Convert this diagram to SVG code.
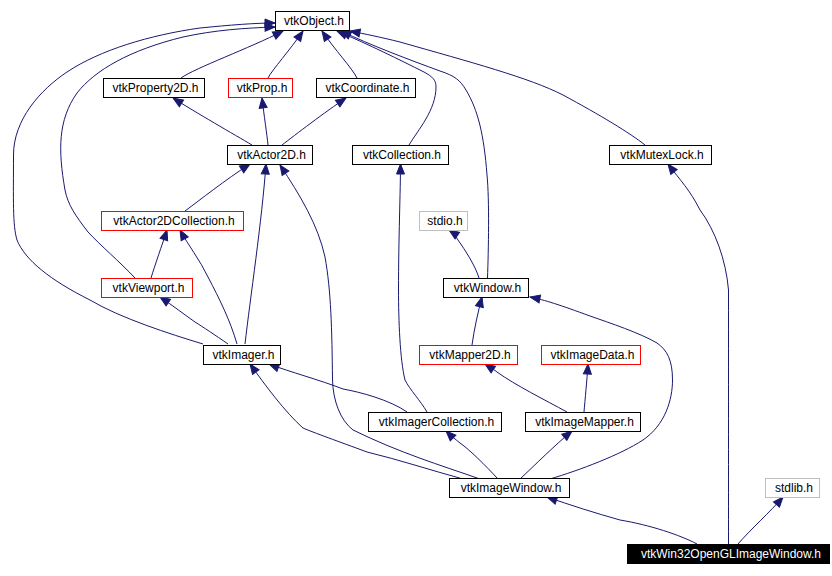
<svg xmlns="http://www.w3.org/2000/svg" width="832" height="576" viewBox="0 0 832 576">
<style>
.n rect{fill:#fff;stroke:#000;stroke-width:1}
.r rect{stroke:#f00}
.g rect{stroke:#bfbfbf}
.b rect{fill:#000;stroke:#000}
.b text{fill:#fff}
text{font-family:"Liberation Sans",Arial,Helvetica,sans-serif;font-size:12px;text-anchor:middle;fill:#000}
.e path{fill:none;stroke:#191970;stroke-width:1;marker-end:url(#a)}
</style>
<defs>
<marker id="a" markerUnits="userSpaceOnUse" markerWidth="12" markerHeight="10" refX="10" refY="4" orient="auto" overflow="visible">
<path d="M0,0 L10,4 L0,8 z" fill="#191970" stroke="#191970" stroke-width="1"/>
</marker>
</defs>
<rect width="832" height="576" fill="#fff"/>
<g id="connectors" class="e">
<path d="M181,78 C195,68 250,48 283,31"/>
<path d="M268,78 C272,70 290,50 303,31"/>
<path d="M357,78 C352,68 335,50 322,31"/>
<path d="M252,145 C235,135 195,112 173,98"/>
<path d="M268,145 C267,135 264,115 262,98"/>
<path d="M282,145 C295,135 325,112 346,98"/>
<path d="M409,145 C418,130 436,110 436,87 C436,80 433,77 424,72 C400,60 370,45 337,31"/>
<path d="M487.5,278 C488.5,250 489.5,200 487,175 C484,135 478,110 466,90 C460,80 455,76 440,71 C410,60 370,45 341,31"/>
<path d="M645,145 C630,133 600,115 563,95 C530,78 470,62 400,42 C380,37 365,34 350,31"/>
<path d="M135,278 C120,262 100,245 88,232 C75,215 68,205 65,190 C58,150 58,120 77,93 C95,70 130,50 183,37 C215,30 245,28 275,27"/>
<path d="M203,344 C170,334 120,318 90,300 C50,280 25,260 17,240 C12.5,225 13.5,200 13.5,155 C13.5,120 40,90 67,72 C100,50 150,35 200,28 C230,25 255,23 275,23"/>
<path d="M185,211 C200,200 225,180 250,164"/>
<path d="M245,344 C250,300 262,220 266,164"/>
<path d="M480,479 C440,465 400,453 353,430 C340,420 333,400 332.5,380 C332,330 331,290 325,257 C318,225 300,195 280,165"/>
<path d="M151,278 C155,265 162,245 167,230"/>
<path d="M237,344 C230,320 220,300 208,277 C200,260 188,245 180,230"/>
<path d="M228,344 C215,335 203,327 195,322 C185,315 172,305 160,297"/>
<path d="M407,412 C390,400 360,392 343,389 C320,380 290,372 269,364"/>
<path d="M463,479 C430,470 400,460 367,452 C340,442 312,432 303,428 C285,412 265,385 250,364"/>
<path d="M427,412 C420,400 410,390 405,380 C400,360 398.5,320 398.5,290 C398.5,240 400.5,190 400.5,164"/>
<path d="M498,479 C485,465 470,450 460,443 C455,439 450,435 446,431"/>
<path d="M520,479 C535,465 555,445 572,431"/>
<path d="M550,479 C580,470 620,455 643,440 C665,425 672.5,400 672.5,380 C672.5,360 667,350 657,343 C640,333 610,323 590,316 C560,305 545,300 530,297"/>
<path d="M472,345 C474,330 478,312 482,297"/>
<path d="M479,278 C475,265 465,250 458,240 C455,235 452,232 449,230"/>
<path d="M567,412 C545,400 515,385 497,372 C492,368 488,366 485,364"/>
<path d="M584,412 C585,400 587,380 588,364"/>
<path d="M697,544 C680,535 650,525 620,520 C595,513 570,505 547,497"/>
<path d="M728.5,544 C728.5,480 728.5,400 728.5,290 C726,260 715,230 700,210 C690,190 680,180 668,164"/>
<path d="M738,544 C750,530 770,512 783,497"/>
</g>
<g id="vtkObject" class="n"><rect x="275.5" y="11.5" width="74" height="19"/><text x="314" y="24.5">vtkObject.h</text></g>
<g id="vtkProperty2D" class="n"><rect x="103.5" y="78.5" width="101" height="19"/><text x="155.5" y="91.5">vtkProperty2D.h</text></g>
<g id="vtkProp" class="n r"><rect x="228.5" y="78.5" width="64" height="19"/><text x="262" y="91.5">vtkProp.h</text></g>
<g id="vtkCoordinate" class="n"><rect x="316.5" y="78.5" width="99" height="19"/><text x="367.5" y="91.5">vtkCoordinate.h</text></g>
<g id="vtkActor2D" class="n"><rect x="227.5" y="145.5" width="85" height="19"/><text x="271.5" y="158.5">vtkActor2D.h</text></g>
<g id="vtkCollection" class="n"><rect x="352.5" y="145.5" width="96" height="19"/><text x="402" y="158.5">vtkCollection.h</text></g>
<g id="vtkMutexLock" class="n"><rect x="609.5" y="145.5" width="102" height="19"/><text x="662" y="158.5">vtkMutexLock.h</text></g>
<g id="vtkActor2DCollection" class="n r"><rect x="101.5" y="211.5" width="142" height="19"/><text x="174" y="224.5">vtkActor2DCollection.h</text></g>
<g id="stdio" class="n g"><rect x="419.5" y="211.5" width="48" height="19"/><text x="445" y="224.5">stdio.h</text></g>
<g id="vtkViewport" class="n r"><rect x="101.5" y="278.5" width="91" height="19"/><text x="148.5" y="291.5">vtkViewport.h</text></g>
<g id="vtkWindow" class="n"><rect x="443.5" y="278.5" width="85" height="19"/><text x="487.5" y="291.5">vtkWindow.h</text></g>
<g id="vtkImager" class="n"><rect x="203.5" y="345.5" width="77" height="19"/><text x="243.5" y="358.5">vtkImager.h</text></g>
<g id="vtkMapper2D" class="n r"><rect x="419.5" y="345.5" width="98" height="19"/><text x="470" y="358.5">vtkMapper2D.h</text></g>
<g id="vtkImageData" class="n r"><rect x="541.5" y="345.5" width="99" height="19"/><text x="592.5" y="358.5">vtkImageData.h</text></g>
<g id="vtkImagerCollection" class="n"><rect x="368.5" y="412.5" width="133" height="19"/><text x="436.5" y="425.5">vtkImagerCollection.h</text></g>
<g id="vtkImageMapper" class="n"><rect x="525.5" y="412.5" width="115" height="19"/><text x="584.5" y="425.5">vtkImageMapper.h</text></g>
<g id="vtkImageWindow" class="n"><rect x="449.5" y="478.5" width="120" height="19"/><text x="511" y="491.5">vtkImageWindow.h</text></g>
<g id="stdlib" class="n g"><rect x="765.5" y="478.5" width="54" height="19"/><text x="794" y="491.5">stdlib.h</text></g>
<g id="vtkWin32OpenGLImageWindow" class="n b"><rect x="627.5" y="544.5" width="202" height="19"/><text x="731" y="557.5">vtkWin32OpenGLImageWindow.h</text></g>
</svg>
